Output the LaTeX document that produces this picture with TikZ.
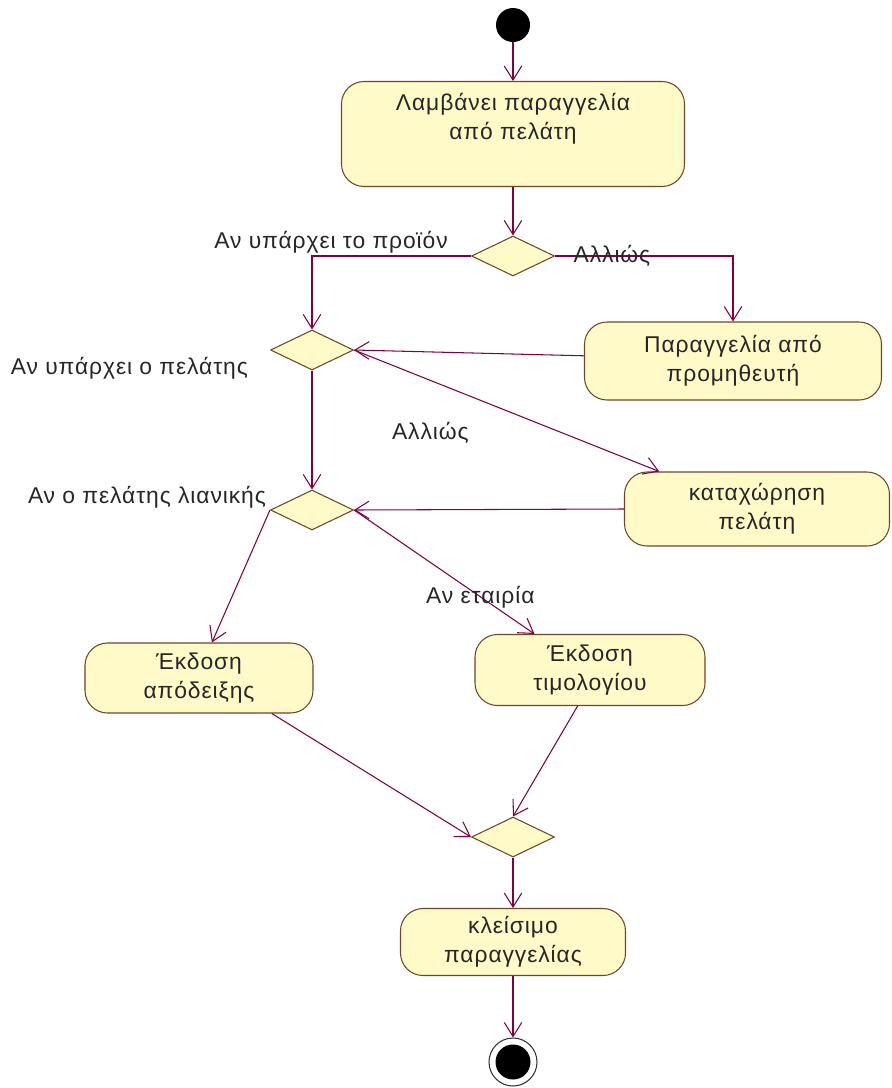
\documentclass[tikz,border=0pt]{standalone}
\usepackage{fontspec}
\setmainfont[LetterSpace=4]{Liberation Sans}
\usepackage{tikz}
\usetikzlibrary{shapes.geometric, arrows.meta, positioning}

\definecolor{actfill}{RGB}{255,250,200}
\definecolor{actline}{RGB}{110,70,40}
\definecolor{flowline}{RGB}{128,0,64}

\begin{document}
\begin{tikzpicture}[
    font=\fontsize{13}{16.5}\selectfont, text=black!85,
    act/.style={draw=actline, line width=0.6pt, fill=actfill, rounded corners=0.45cm, align=center, inner sep=2pt},
    decision/.style={diamond, draw=actline, line width=0.6pt, fill=actfill, minimum width=1.66cm, minimum height=0.8cm, inner sep=0pt},
    flow/.style={draw=flowline, line width=0.6pt, -{Straight Barb[length=8pt,width=10pt]}},
    lbl/.style={inner sep=1pt}
]
    \useasboundingbox (0,0) rectangle (17.84,-21.76);

    % Start
    \node[circle, fill=black, minimum size=0.68cm, inner sep=0pt] (start) at (10.26,-0.5) {};

    % Activities
    \node[act, minimum width=6.86cm, minimum height=2.1cm, text depth=0.7cm] (order) at (10.26,-2.68) {Λαμβάνει παραγγελία\\από πελάτη};
    \node[act, minimum width=5.94cm, minimum height=1.56cm] (supplier) at (14.66,-7.22) {Παραγγελία από\\προμηθευτή};
    \node[act, minimum width=5.3cm, minimum height=1.48cm] (register) at (15.14,-10.18) {καταχώρηση\\πελάτη};
    \node[act, minimum width=4.56cm, minimum height=1.4cm] (receipt) at (3.98,-13.56) {Έκδοση\\απόδειξης};
    \node[act, minimum width=4.6cm, minimum height=1.42cm] (invoice) at (11.8,-13.4) {Έκδοση\\τιμολογίου};
    \node[act, minimum width=4.5cm, minimum height=1.34cm] (close) at (10.26,-18.84) {κλείσιμο\\παραγγελίας};

    % Decisions
    \node[decision] (stock) at (10.26,-5.12) {};
    \node[decision] (client) at (6.24,-7.0) {};
    \node[decision] (retail) at (6.24,-10.2) {};
    \node[decision] (merge) at (10.26,-16.74) {};

    % End
    \node[circle, draw=black!80, fill=white, line width=0.6pt, minimum size=0.96cm, inner sep=0pt] (end) at (10.26,-21.24) {};
    \node[circle, fill=black, minimum size=0.7cm, inner sep=0pt] at (end) {};

    % Guards
    \node[lbl, below left=0.1cm and 0.4cm of client.west] (clientlbl) {Αν υπάρχει ο πελάτης};
    \node[lbl, above left=0cm and 0.04cm of retail.west] (retaillbl) {Αν ο πελάτης λιανικής};

    % Flows
    \draw[flow] (start) -- (order);
    \draw[flow] (order) -- (stock);
    \draw[flow] (stock.west) -| node[lbl, above, pos=0.44] {Αν υπάρχει το προϊόν} (client.north);
    \draw[flow] (stock.east) -| node[lbl, pos=0.16] {Αλλιώς} (supplier.north);
    \draw[flow] (supplier.178) -- (client.east);
    \draw[flow] (client.east) -- node[lbl, pos=0.25, below=0.8cm] {Αλλιώς} (register.159.5);
    \draw[flow] (client.south) -- (retail.north);
    \draw[flow] (register.west) -- (retail.east);
    \draw[flow] (retail.west) -- (receipt.70);
    \draw[flow] (retail.east) -- node[lbl, pos=0.7] {Αν εταιρία} (invoice.147);
    \draw[flow] (receipt.-26) -- (merge.west);
    \draw[flow] (invoice.-109) -- (merge.north);
    \draw[flow] (merge.south) -- (close.north);
    \draw[flow] (close.south) -- (end.north);

\end{tikzpicture}
\end{document}
